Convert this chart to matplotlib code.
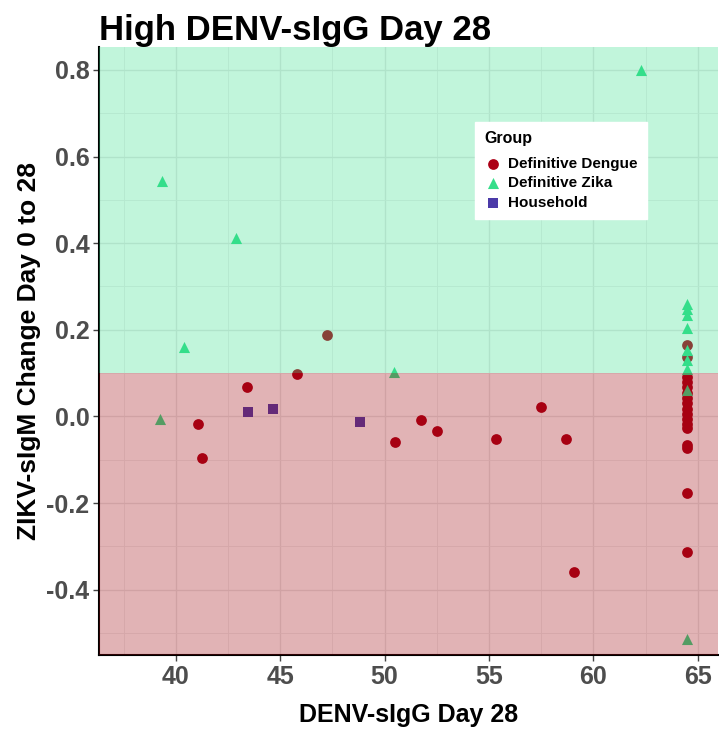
import numpy as np
import matplotlib.pyplot as plt

plt.rcParams['font.family'] = ['Liberation Sans', 'DejaVu Sans']

# Definitive Dengue
dengue_x = [43.41, 45.79, 47.22, 41.07, 41.26, 50.48, 51.75, 52.49, 55.33, 57.48, 58.67, 59.06,
            64.5, 64.5, 64.5, 64.5, 64.5, 64.5, 64.5, 64.5, 64.5, 64.5, 64.5, 64.5, 64.5,
            64.5, 64.5, 64.5, 64.5]
dengue_y = [0.067, 0.099, 0.187, -0.018, -0.095, -0.059, -0.0085, -0.033, -0.052, 0.021, -0.052, -0.360,
            0.166, 0.137, 0.090, 0.080, 0.068, 0.055, 0.042, 0.030, 0.018, 0.006, -0.006, -0.018,
            -0.027, -0.066, -0.073, -0.177, -0.312]

# Definitive Zika
zika_x = [39.33, 42.9, 40.38, 50.45, 39.23, 62.3,
          64.5, 64.5, 64.5, 64.5, 64.5, 64.5, 64.5, 64.5, 64.5]
zika_y = [0.544, 0.411, 0.160, 0.103, -0.007, 0.800,
          0.260, 0.247, 0.234, 0.203, 0.153, 0.130, 0.110, 0.060, -0.515]

# Household
house_x = [43.46, 44.64, 48.82]
house_y = [0.011, 0.0175, -0.012]

xticks = [40, 45, 50, 55, 60, 65]
yticks = [-0.4, -0.2, 0.0, 0.2, 0.4, 0.6, 0.8]
cutoff = 0.1

red = '#AC0016'
green = '#35DE8A'
purple = '#4B3AA8'

fig = plt.figure(figsize=(7.19, 7.29), dpi=100)
ax = fig.add_axes([0.1377, 0.1015, 0.8609, 0.834])

xlim = (36.32, 65.97)
ylim = (-0.551, 0.853)

ax.scatter(dengue_x, dengue_y, s=60, marker='o', color=red, linewidths=0, zorder=2, label='Definitive Dengue')
ax.scatter(zika_x, zika_y, s=64, marker='^', color=green, linewidths=0, zorder=2, label='Definitive Zika')
ax.scatter(house_x, house_y, s=50, marker='s', color=purple, linewidths=0, zorder=2, label='Household')

ax.axhspan(cutoff, ylim[1], color='#34DE8A', alpha=0.3, linewidth=0, zorder=3)
ax.axhspan(ylim[0], cutoff, color='#9E050C', alpha=0.3, linewidth=0, zorder=3)

ax.set_xlim(xlim)
ax.set_ylim(ylim)
ax.set_xticks(xticks)
ax.set_yticks(yticks)
ax.set_yticklabels([f'{v:.1f}' for v in yticks])
ax.set_xticks(np.arange(37.5, 66, 5), minor=True)
ax.set_yticks(np.arange(-0.5, 0.85, 0.2), minor=True)
ax.tick_params(which='minor', length=0)
ax.grid(True, which='major', color='#E6E6E6', linewidth=1.0, zorder=0)
ax.grid(True, which='minor', color='#EDEDED', linewidth=0.6, zorder=0)
ax.set_axisbelow(True)

for s in ['top', 'right']:
    ax.spines[s].set_visible(False)
for s in ['left', 'bottom']:
    ax.spines[s].set_linewidth(1.5)
    ax.spines[s].set_color('black')

ax.tick_params(which='major', length=4, width=1, color='#444444', labelsize=18, labelcolor='#4D4D4D', pad=3)
for lab in ax.get_xticklabels() + ax.get_yticklabels():
    lab.set_fontweight('bold')

ax.set_xlabel('DENV-sIgG Day 28', fontsize=18, fontweight='bold', labelpad=10)
ax.set_ylabel('ZIKV-sIgM Change Day 0 to 28', fontsize=19, fontweight='bold', labelpad=4)
ax.set_title('High DENV-sIgG Day 28', loc='left', fontsize=25, fontweight='bold', pad=3)

leg = ax.legend(title='Group', loc='upper left', bbox_to_anchor=(0.607, 0.877),
                borderaxespad=0, frameon=True, fancybox=False, edgecolor='white', framealpha=1,
                prop={'weight': 'bold', 'size': 11}, handletextpad=0.4, borderpad=0.6,
                labelspacing=0.35, handlelength=1.2, markerscale=1.0)
leg.get_title().set_fontweight('bold')
leg.get_title().set_fontsize(11.5)
leg._legend_box.align = 'left'
leg._legend_box.sep = 8
leg.set_zorder(5)

fig.savefig('out.png', dpi=100)
